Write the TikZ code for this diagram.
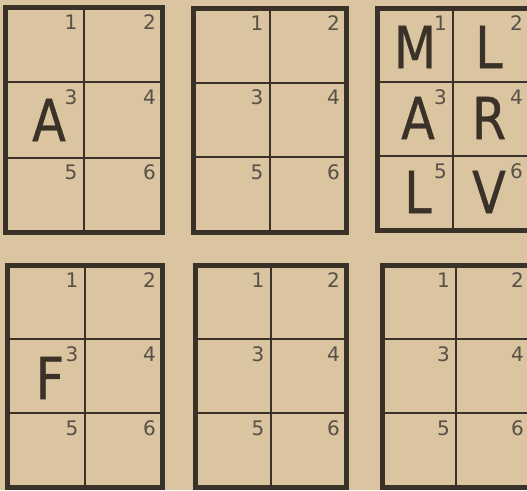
\documentclass[tikz,border=0pt]{standalone}
\usepackage{fontspec}
\setmainfont{DejaVu Sans}
\newfontfamily\letterfont[FakeStretch=0.85, FakeBold=0.6]{DejaVu Sans}
\usetikzlibrary{positioning}

\definecolor{paper}{RGB}{219,196,160}
\definecolor{ink}{RGB}{58,50,40}

\tikzset{
  frame/.style={draw=ink, line width=5pt},
  divider/.style={draw=ink, line width=2pt},
  num/.style={anchor=base east, inner sep=0pt, text=ink!85, font=\fontsize{20}{20}\selectfont},
  letter/.style={inner sep=0pt, text=ink, font=\letterfont\fontsize{58}{58}\selectfont},
}

% one 2x3 grid: name, left, top, cell width, cell height
\newcommand{\sixgrid}[5]{
  \draw[divider] (#2+#4,#3) -- (#2+#4,#3+3*#5);
  \draw[divider] (#2,#3+#5) -- (#2+2*#4,#3+#5);
  \draw[divider] (#2,#3+2*#5) -- (#2+2*#4,#3+2*#5);
  \draw[frame] (#2,#3) rectangle (#2+2*#4,#3+3*#5);
  \foreach \r in {0,1,2} {
    \foreach \c in {1,2} {
      \pgfmathtruncatemacro{\k}{2*\r+\c}
      \node[num] (#1-\k) at (#2+\c*#4-6,#3+\r*#5+22) {\k};
    }
  }
}

\begin{document}
\begin{tikzpicture}[x=1pt, y=-1pt]
	\useasboundingbox (0,0) rectangle (527,490);
	\clip (0,0) rectangle (527,490);
	\fill[paper] (0,0) rectangle (527,490);

	% Top row
	\sixgrid{ga}{5}{7}{78.5}{75.3}
	\sixgrid{gb}{193}{8}{76.5}{74.7}
	\sixgrid{gc}{377}{8}{76}{74}

	% Bottom row
	\sixgrid{gd}{7}{265}{77.5}{74}
	\sixgrid{ge}{195}{265}{75.5}{74}
	\sixgrid{gf}{382}{265}{74}{74}

	% Letters
	\node[letter] (ga-a) at (49,120) {A};
	\node[letter] (gc-m) at (415,47) {M};
	\node[letter] (gc-l) at (489,47) {L};
	\node[letter] (gc-a) at (418,118) {A};
	\node[letter] (gc-r) at (489,118) {R};
	\node[letter] (gc-l2) at (418,192) {L};
	\node[letter] (gc-v) at (489,192) {V};
	\node[letter] (gd-f) at (50,378) {F};
\end{tikzpicture}
\end{document}
